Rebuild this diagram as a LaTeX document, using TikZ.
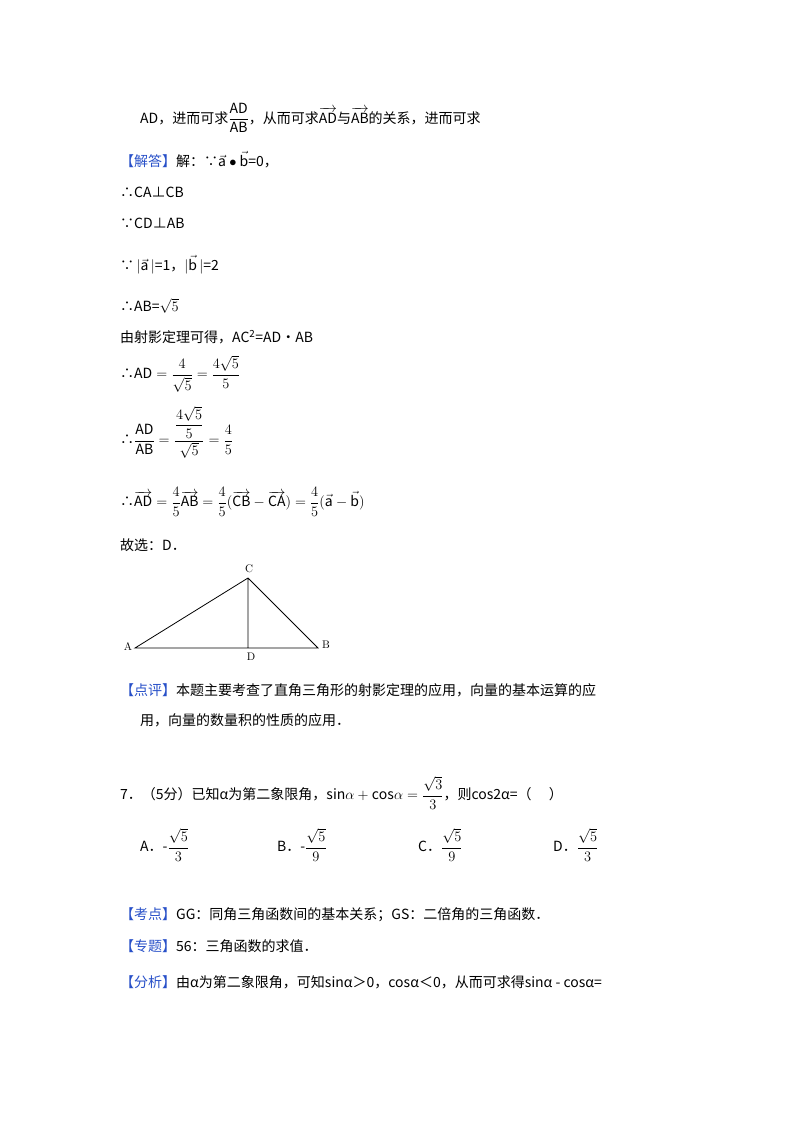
\documentclass[tikz,border=0pt]{standalone}
\usepackage{fontspec}
\setmainfont{Noto Sans CJK SC}
\newfontfamily\lmr{Latin Modern Roman}
\usepackage{amsmath}
\begin{document}
\begin{tikzpicture}[x=1pt,y=-1pt,
  t/.style={anchor=west,inner sep=0pt,font=\fontsize{14}{16}\selectfont},
  lab/.style={inner sep=0pt,font=\fontsize{11}{12}\selectfont\lmr}]
\definecolor{kb}{RGB}{40,80,200}
\useasboundingbox (0,0) rectangle (800,1133);
\newcommand\vv[1]{\overrightarrow{\mathrm{#1}}}
\newcommand\fr[2]{\dfrac{\mathrm{#1}}{\mathrm{#2}}}
\node[t] (l1) at (140,118) {AD，进而可求$\fr{AD}{AB}$，从而可求$\vv{AD}$与$\vv{AB}$的关系，进而可求};
\node[t] (l2) at (120,160) {\textcolor{kb}{【解答】}解：∵$\vec{\mathrm a}\bullet\vec{\mathrm b}$=0，};
\node[t] (l3) at (120,192) {∴CA⊥CB};
\node[t] (l4) at (120,223) {∵CD⊥AB};
\node[t] (l5) at (120,265) {∵$\,|\vec{\mathrm a}\,|$=1，$|\vec{\mathrm b}\,|$=2};
\node[t] (l6) at (120,306) {∴AB=$\sqrt5$};
\node[t] (l7) at (120,337) {由射影定理可得，AC\textsuperscript{2}=AD•AB};
\node[t] (l8) at (120,374) {∴$\mathrm{AD}=\dfrac{4}{\sqrt5}=\dfrac{4\sqrt5}{5}$};
\node[t] (l9) at (120,432) {∴$\fr{AD}{AB}=\dfrac{\displaystyle\frac{4\sqrt5}{5}}{\sqrt5}=\dfrac45$};
\node[t] (l10) at (120,502) {∴$\vv{AD}=\dfrac45\vv{AB}=\dfrac45(\vv{CB}-\vv{CA})=\dfrac45(\vec{\mathrm a}-\vec{\mathrm b})$};
\node[t] (l11) at (120,545) {故选：D．};
\coordinate (A) at (135,648);
\coordinate (B) at (318,648);
\coordinate (C) at (248,578);
\coordinate (D) at (248,648);
\draw[line width=0.8pt] (A) -- (B) -- (C) -- cycle (C) -- (D);
\node[lab] (la) at (128,647) {A};
\node[lab] (lb) at (326,645) {B};
\node[lab] (lc) at (249,569) {C};
\node[lab] (ld) at (251,657) {D};
\node[t] (l12) at (120,690) {\textcolor{kb}{【点评】}本题主要考查了直角三角形的射影定理的应用，向量的基本运算的应};
\node[t] (l13) at (140,720) {用，向量的数量积的性质的应用．};
\node[t] (l14) at (120,793) {7．（5分）已知α为第二象限角，$\mathrm{sin}\alpha+\mathrm{cos}\alpha=\dfrac{\sqrt3}{3}$，则cos2α=（\quad\ ）};
\node[t] (oA) at (140,845) {A．-$\dfrac{\sqrt5}{3}$};
\node[t] (oB) at (277,845) {B．-$\dfrac{\sqrt5}{9}$};
\node[t] (oC) at (418,845) {C．$\dfrac{\sqrt5}{9}$};
\node[t] (oD) at (553,845) {D．$\dfrac{\sqrt5}{3}$};
\node[t] (l15) at (120,915) {\textcolor{kb}{【考点】}GG：同角三角函数间的基本关系；GS：二倍角的三角函数．};
\node[t] (l16) at (120,946) {\textcolor{kb}{【专题】}56：三角函数的求值．};
\node[t] (l17) at (120,982) {\textcolor{kb}{【分析】}由α为第二象限角，可知sinα＞0，cosα＜0，从而可求得sinα - cosα=};
\end{tikzpicture}
\end{document}
